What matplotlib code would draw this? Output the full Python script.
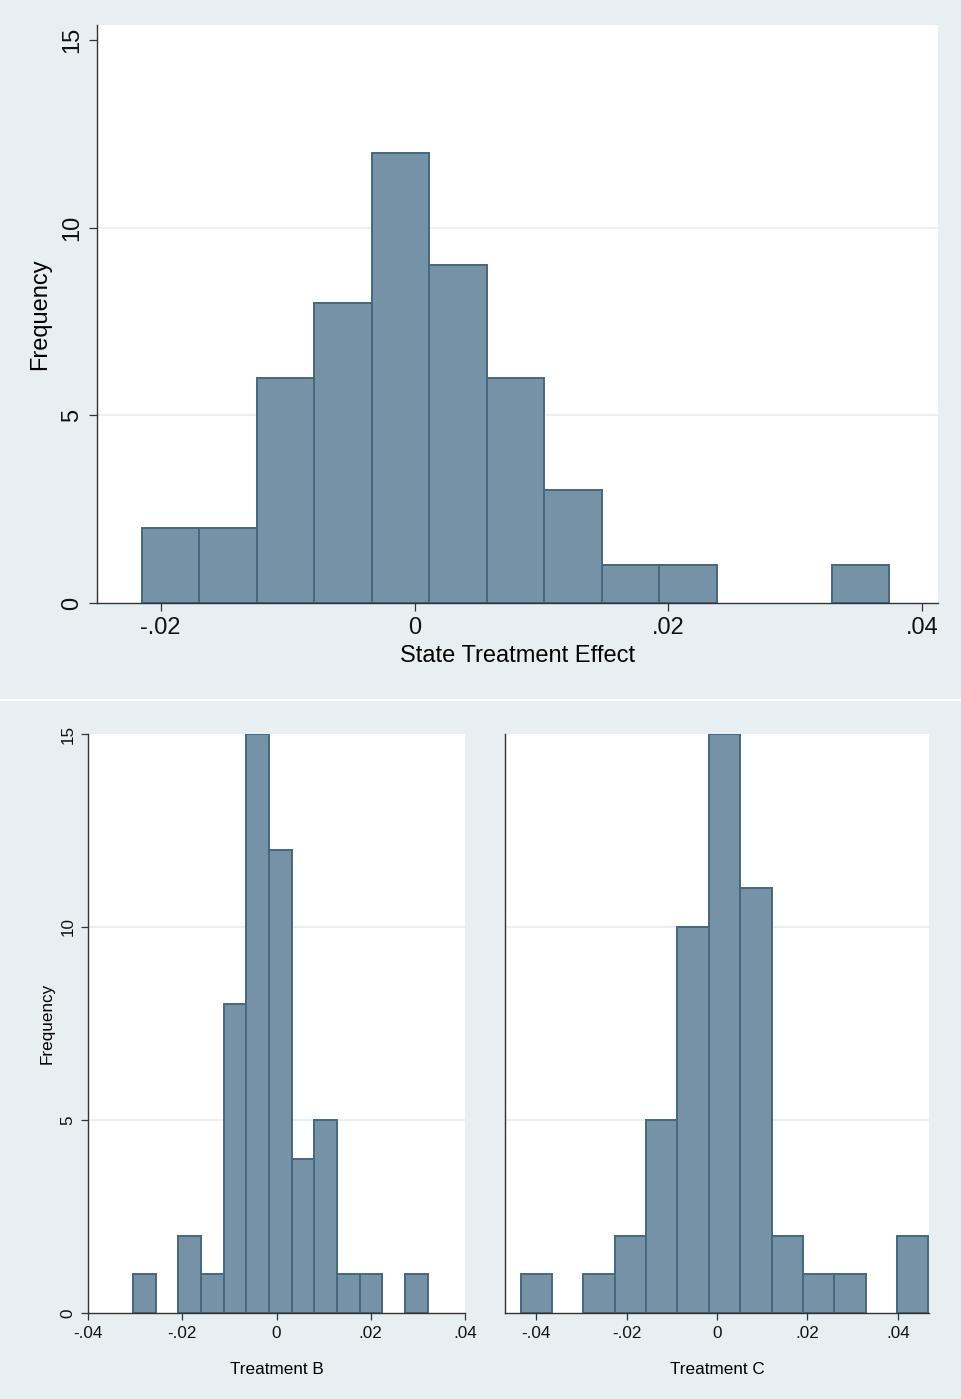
"""
Histograms of state treatment effects (Stata s2color look).
Saves out.png at 962x1399.
"""

import numpy as np
import matplotlib
matplotlib.use("Agg")
import matplotlib.pyplot as plt
from matplotlib.lines import Line2D

# ── Data ──────────────────────────────────────────────────────
state_bin_start = -0.0215
state_bin_width = 0.00453
state_counts = [2, 2, 6, 8, 12, 9, 6, 3, 1, 1, 0, 0, 1]

b_bin_start = -0.03043
b_bin_width = 0.004806
b_counts = [1, 0, 2, 1, 8, 15, 12, 4, 5, 1, 1, 0, 1]

c_bin_start = -0.04346
c_bin_width = 0.006942
c_counts = [1, 0, 1, 2, 5, 10, 15, 11, 2, 1, 1, 0, 2]

state_xticks = [-0.02, 0, 0.02, 0.04]
state_xlabels = ["-.02", "0", ".02", ".04"]
bottom_xticks = [-0.04, -0.02, 0, 0.02, 0.04]
bottom_xlabels = ["-.04", "-.02", "0", ".02", ".04"]
yticks = [0, 5, 10, 15]

# ── Style ─────────────────────────────────────────────────────
BG = "#e7eff2"
BAR = "#7592a7"
EDGE = "#46677d"
GRID = "#e6eef1"
AXIS = "#333333"

plt.rcParams["font.family"] = ["Liberation Sans", "DejaVu Sans"]
plt.rcParams["text.color"] = "#111111"

W, H = 962, 1399
fig = plt.figure(figsize=(W / 100, H / 100), dpi=100, facecolor=BG)


def px_axes(left, top, right, bottom):
    """Axes from pixel box (origin top-left)."""
    return fig.add_axes([left / W, (H - bottom) / H,
                         (right - left) / W, (bottom - top) / H])


def draw_hist(ax, start, width, counts):
    counts = np.asarray(counts)
    edges = start + width * np.arange(len(counts))
    keep = counts > 0  # empty bins leave no mark
    ax.bar(edges[keep], counts[keep], width=width, align="edge",
           color=BAR, edgecolor=EDGE, linewidth=1.4, zorder=3)


def style_axes(ax, fontsize, ticklen):
    ax.set_facecolor("white")
    for side in ("top", "right"):
        ax.spines[side].set_visible(False)
    for side in ("left", "bottom"):
        ax.spines[side].set_color(AXIS)
        ax.spines[side].set_linewidth(1.0)
        ax.spines[side].set_zorder(4)
    ax.tick_params(direction="out", length=ticklen, width=0.9,
                   color=AXIS, labelcolor="#111111",
                   labelsize=fontsize, pad=4)
    for y in (5, 10):
        ax.axhline(y, color=GRID, linewidth=1.2, zorder=1)


# ── Top panel: state treatment effect ─────────────────────────
ax_top = px_axes(97, 25, 938, 603)
draw_hist(ax_top, state_bin_start, state_bin_width, state_counts)
style_axes(ax_top, 17, 6)
ax_top.set_xlim(-0.02502, 0.04124)
ax_top.set_ylim(0, 15.4)
ax_top.set_xticks(state_xticks, state_xlabels)
ax_top.set_yticks(yticks)
plt.setp(ax_top.get_yticklabels(), rotation=90, va="center")
ax_top.set_xlabel("State Treatment Effect", fontsize=17, va="center")
ax_top.xaxis.set_label_coords(0.5, -(656 - 603) / (603 - 25))
ax_top.set_ylabel("Frequency", fontsize=17, va="center")
ax_top.yaxis.set_label_coords(-(97 - 40) / (938 - 97), 0.5)

# ── Bottom left: treatment B ──────────────────────────────────
ax_b = px_axes(88, 734, 465, 1313)
draw_hist(ax_b, b_bin_start, b_bin_width, b_counts)
style_axes(ax_b, 12.3, 5)
ax_b.set_xlim(-0.04, 0.04)
ax_b.set_ylim(0, 15)
ax_b.set_xticks(bottom_xticks, bottom_xlabels)
ax_b.set_yticks(yticks)
plt.setp(ax_b.get_yticklabels(), rotation=90, va="center")
ax_b.set_xlabel("Treatment B", fontsize=12.3, va="center")
ax_b.xaxis.set_label_coords(0.5, -(1370 - 1313) / (1313 - 734))
ax_b.set_ylabel("Frequency", fontsize=12.3, va="center")
ax_b.yaxis.set_label_coords(-(88 - 47) / (465 - 88), 0.5)

# ── Bottom right: treatment C ─────────────────────────────────
ax_c = px_axes(505, 734, 929, 1313)
draw_hist(ax_c, c_bin_start, c_bin_width, c_counts)
style_axes(ax_c, 12.3, 5)
ax_c.set_xlim(-0.0469, 0.0469)
ax_c.set_ylim(0, 15)
ax_c.set_xticks(bottom_xticks, bottom_xlabels)
ax_c.set_yticks(yticks)
ax_c.tick_params(axis="y", length=0, labelleft=False)
ax_c.set_xlabel("Treatment C", fontsize=12.3, va="center")
ax_c.xaxis.set_label_coords(0.5, -(1370 - 1313) / (1313 - 734))

# white divider between the two graphs
fig.add_artist(Line2D([0, 1], [1 - 700 / H] * 2, color="white",
                      linewidth=1.5, transform=fig.transFigure))

fig.savefig("out.png", dpi=100, facecolor=BG)
